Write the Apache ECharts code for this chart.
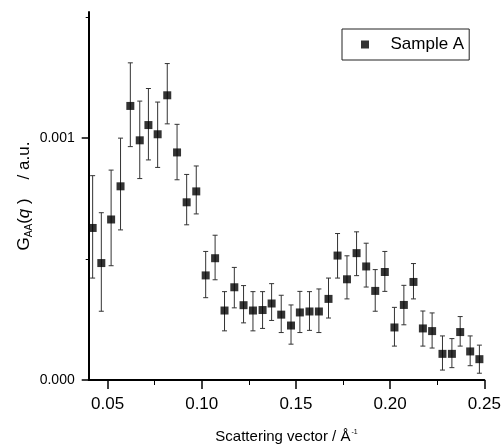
<!DOCTYPE html>
<html>
<head>
<meta charset="utf-8">
<script src="https://cdn.jsdelivr.net/npm/echarts@6/dist/echarts.min.js"></script>
<style>html,body{margin:0;padding:0;background:#fff}#c{width:503px;height:446px}</style>
</head>
<body>
<div id="c"></div>
<script>
// Scattering vector q (1/Å)
const qValues = [0.0421, 0.0467, 0.0519, 0.0569, 0.0621, 0.0671, 0.0717, 0.0766, 0.0817, 0.0869,
  0.0920, 0.0971, 0.1021, 0.1071, 0.1121, 0.1173, 0.1222, 0.1272, 0.1323, 0.1371,
  0.1422, 0.1474, 0.1521, 0.1572, 0.1622, 0.1673, 0.1721, 0.1771, 0.1822, 0.1873,
  0.1921, 0.1972, 0.2023, 0.2073, 0.2124, 0.2174, 0.2223, 0.2278, 0.2328, 0.2372,
  0.2425, 0.2474];
// G_AA(q), Sample A
const gValues = [0.000628, 0.000483, 0.000663, 0.000800, 0.001132, 0.000990, 0.001053, 0.001015, 0.001176, 0.000940,
  0.000734, 0.000779, 0.000432, 0.000503, 0.000287, 0.000383, 0.000309, 0.000287, 0.000289, 0.000316,
  0.000270, 0.000225, 0.000279, 0.000283, 0.000283, 0.000335, 0.000514, 0.000416, 0.000524, 0.000469,
  0.000368, 0.000446, 0.000217, 0.000310, 0.000405, 0.000213, 0.000202, 0.000108, 0.000108, 0.000198,
  0.000118, 0.000086];
// error bar upper ends
const errHigh = [0.000844, 0.000691, 0.000867, 0.000999, 0.001310, 0.001152, 0.001204, 0.001148, 0.001307, 0.001056,
  0.000849, 0.000884, 0.000531, 0.000598, 0.000365, 0.000465, 0.000390, 0.000365, 0.000365, 0.000398,
  0.000350, 0.000310, 0.000366, 0.000365, 0.000376, 0.000421, 0.000605, 0.000513, 0.000612, 0.000565,
  0.000456, 0.000531, 0.000300, 0.000391, 0.000481, 0.000285, 0.000277, 0.000182, 0.000171, 0.000262,
  0.000182, 0.000144];
// error bar lower ends
const errLow = [0.000421, 0.000284, 0.000472, 0.000620, 0.000964, 0.000832, 0.000909, 0.000878, 0.001058, 0.000827,
  0.000641, 0.000686, 0.000340, 0.000414, 0.000203, 0.000298, 0.000236, 0.000203, 0.000213, 0.000246,
  0.000196, 0.000148, 0.000196, 0.000205, 0.000196, 0.000256, 0.000421, 0.000335, 0.000431, 0.000384,
  0.000284, 0.000366, 0.000140, 0.000228, 0.000335, 0.000140, 0.000132, 0.000041, 0.000051, 0.000140,
  0.000059, 0.000028];
const xMajorTicks = [0.05, 0.10, 0.15, 0.20, 0.25];
const xMinorTicks = [0.075, 0.125, 0.175, 0.225];
const yMajorTicks = [0, 0.001];
const yMinorTicks = [0.0005, 0.0015];
const seriesName = 'Sample A';

const FONT = 'Arial, "Liberation Sans", sans-serif';

const points = qValues.map((q, i) => [q, gValues[i]]);
const bars = qValues.map((q, i) => [q, errLow[i], errHigh[i]]);

const chart = echarts.init(document.getElementById('c'), null, {renderer: 'canvas'});
const axisLineStyle = {color: '#000', width: 2};
chart.setOption({
  animation: false,
  backgroundColor: '#fff',
  grid: {left: 88.7, right: 18.7, top: 12, bottom: 66, containLabel: false, outerBoundsMode: 'none'},
  legend: {
    show: true,
    data: [{name: seriesName, icon: 'path://M0,0H10V10H0Z'}],
    left: 342, top: 29,
    padding: [7, 5, 7, 19],
    itemHeight: 8,
    itemGap: 5,
    borderColor: '#222', borderWidth: 1,
    textStyle: {fontFamily: FONT, fontSize: 17, color: '#000', padding: [0, 0, 0, 8]}
  },
  xAxis: [{
    type: 'value', min: 0.04, max: 0.25, position: 'bottom',
    axisLine: {show: true, lineStyle: axisLineStyle},
    axisTick: {show: true, inside: false, length: 9, lineStyle: {color: '#000', width: 1.5}, customValues: xMajorTicks},
    axisLabel: {customValues: xMajorTicks, formatter: v => v.toFixed(2), fontFamily: FONT, fontSize: 17, color: '#000', margin: 16},
    splitLine: {show: false},
    name: 'Scattering vector / Å{sup|-1}',
    nameLocation: 'middle', nameGap: 49, nameMoveOverlap: false,
    nameTextStyle: {fontFamily: FONT, fontSize: 15, color: '#000',
      rich: {sup: {fontFamily: FONT, fontSize: 7, verticalAlign: 'top', color: '#000', padding: [0, 0, 9, 1]}}}
  }, {
    type: 'value', min: 0.04, max: 0.25, position: 'bottom',
    axisLine: {show: false},
    axisTick: {show: true, length: 5, lineStyle: {color: '#000', width: 1}, customValues: xMinorTicks},
    axisLabel: {show: false},
    splitLine: {show: false}
  }],
  yAxis: [{
    type: 'value', min: 0, max: 0.00152, position: 'left',
    axisLine: {show: true, lineStyle: axisLineStyle},
    axisTick: {show: true, length: 7, lineStyle: {color: '#000', width: 1.5}, customValues: yMajorTicks},
    axisLabel: {customValues: yMajorTicks, formatter: v => v.toFixed(3), fontFamily: FONT, fontSize: 14, color: '#000', margin: 14},
    splitLine: {show: false},
    name: 'G{sub|AA}({it|q} )    / a.u.',
    nameLocation: 'middle', nameRotate: 90, nameGap: 54, nameMoveOverlap: false,
    nameTextStyle: {fontFamily: FONT, fontSize: 17, color: '#000', lineHeight: 20,
      rich: {
        sub: {fontFamily: FONT, fontSize: 10, verticalAlign: 'bottom', color: '#000', lineHeight: 20},
        it: {fontFamily: FONT, fontSize: 17, fontStyle: 'italic', color: '#000', lineHeight: 20}
      }}
  }, {
    type: 'value', min: 0, max: 0.00152, position: 'left',
    axisLine: {show: false},
    axisTick: {show: true, length: 3, lineStyle: {color: '#000', width: 1}, customValues: yMinorTicks},
    axisLabel: {show: false},
    splitLine: {show: false}
  }],
  series: [{
    type: 'custom',
    name: 'errorbars',
    xAxisIndex: 0, yAxisIndex: 0,
    data: bars,
    z: 2,
    renderItem: function (params, api) {
      const x = api.value(0);
      const lo = api.coord([x, api.value(1)]);
      const hi = api.coord([x, api.value(2)]);
      const hw = 2.5;
      const style = {stroke: '#333', lineWidth: 1};
      return {
        type: 'group',
        children: [
          {type: 'line', shape: {x1: lo[0], y1: lo[1], x2: hi[0], y2: hi[1]}, style: style},
          {type: 'line', shape: {x1: hi[0] - hw, y1: hi[1], x2: hi[0] + hw, y2: hi[1]}, style: style},
          {type: 'line', shape: {x1: lo[0] - hw, y1: lo[1], x2: lo[0] + hw, y2: lo[1]}, style: style}
        ]
      };
    },
    encode: {x: 0, y: [1, 2]}
  }, {
    type: 'scatter',
    name: seriesName,
    xAxisIndex: 0, yAxisIndex: 0,
    data: points,
    symbol: 'rect',
    symbolSize: 8,
    z: 3,
    itemStyle: {color: '#000'}
  }]
});
</script>
</body>
</html>
